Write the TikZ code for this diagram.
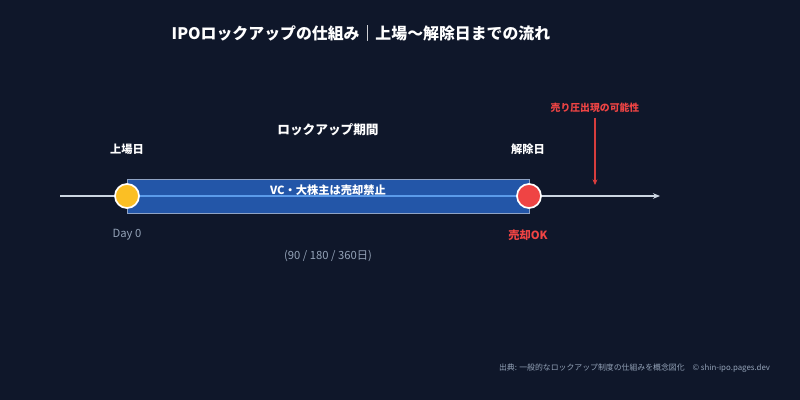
\documentclass[tikz,border=0pt]{standalone}
\usepackage{fontspec}
\setmainfont{Noto Sans CJK JP}
\usetikzlibrary{arrows.meta}
\definecolor{bgnavy}{HTML}{0F172A}
\definecolor{axisgray}{HTML}{CBD5E1}
\definecolor{mutedgray}{HTML}{94A3B8}
\definecolor{barblue}{HTML}{2356A8}
\definecolor{barline}{HTML}{5B9BEA}
\definecolor{baredge}{HTML}{8FA3C4}
\definecolor{startyellow}{HTML}{FBBF24}
\definecolor{alertred}{HTML}{EF4444}
\tikzset{
  axis/.style={draw=axisgray, line width=1.3pt},
  period-bar/.style={rectangle, fill=barblue, draw=baredge, line width=0.7pt,
    minimum width=10.05cm, minimum height=0.85cm, inner sep=0pt, anchor=west},
  bar-line/.style={draw=barline, line width=1.3pt},
  node-start/.style={circle, fill=startyellow, draw=white, line width=1.2pt,
    minimum size=0.6cm, inner sep=0pt},
  node-end/.style={circle, fill=alertred, draw=white, line width=1.2pt,
    minimum size=0.6cm, inner sep=0pt},
  label-white/.style={text=white, font=\fontsize{8}{10}\selectfont\bfseries},
  label-gray/.style={text=mutedgray, font=\fontsize{8}{10}\selectfont},
  label-red/.style={text=alertred, font=\fontsize{8}{10}\selectfont\bfseries},
  warn-arrow/.style={draw=alertred!90!black, line width=0.8pt, -{Stealth[length=4pt,width=3.5pt]}}
}

\begin{document}
\begin{tikzpicture}[x=0.025cm, y=-0.025cm]
  % Background
  \fill[bgnavy] (0,0) rectangle (800,400);
  \useasboundingbox (0,0) rectangle (800,400);

  % Title
  \node[text=white, font=\fontsize{11.3}{13}\selectfont\bfseries] (title) at (361,33)
    {IPOロックアップの仕組み｜上場〜解除日までの流れ};

  % Timeline ends
  \coordinate (axis-start) at (60,196);
  \coordinate (axis-end) at (660,196);
  \coordinate (listing) at (127,196);
  \coordinate (release) at (529,196);

  % Lockup period bar
  \node[period-bar] (bar) at (listing) {};
  \draw[axis] (axis-start) -- (listing);
  \draw[axis, -{Stealth[length=5pt,width=4pt]}] (release) -- (axis-end);
  \draw[bar-line] (listing) -- (release);
  \node[text=white, font=\fontsize{8}{10}\selectfont\bfseries] (bar-text) at (328,190)
    {VC・大株主は売却禁止};

  % Start and release dots
  \node[node-start] (listing-dot) at (listing) {};
  \node[node-end] (release-dot) at (release) {};

  % Labels above
  \node[label-white, font=\fontsize{9}{11}\selectfont\bfseries] (period) at (328,130) {ロックアップ期間};
  \node[label-white] (listing-label) at (127,149) {上場日};
  \node[label-white] (release-label) at (528,149) {解除日};

  % Labels below
  \node[label-gray] (day0) at (127,235) {Day 0};
  \node[label-red] (sell-ok) at (528,235) {売却OK};
  \node[label-gray] (span) at (328,256) {(90 / 180 / 360日)};

  % Selling pressure
  \node[label-red, font=\fontsize{7}{9}\selectfont\bfseries] (pressure) at (595,108) {売り圧出現の可能性};
  \coordinate (pressure-tip) at (595,185);
  \draw[warn-arrow] (pressure.south) -- (pressure-tip);

  % Footer
  \node[label-gray, font=\fontsize{5.6}{7}\selectfont, anchor=east] (source) at (775,368)
    {出典: 一般的なロックアップ制度の仕組みを概念図化\quad © shin-ipo.pages.dev};
\end{tikzpicture}
\end{document}
